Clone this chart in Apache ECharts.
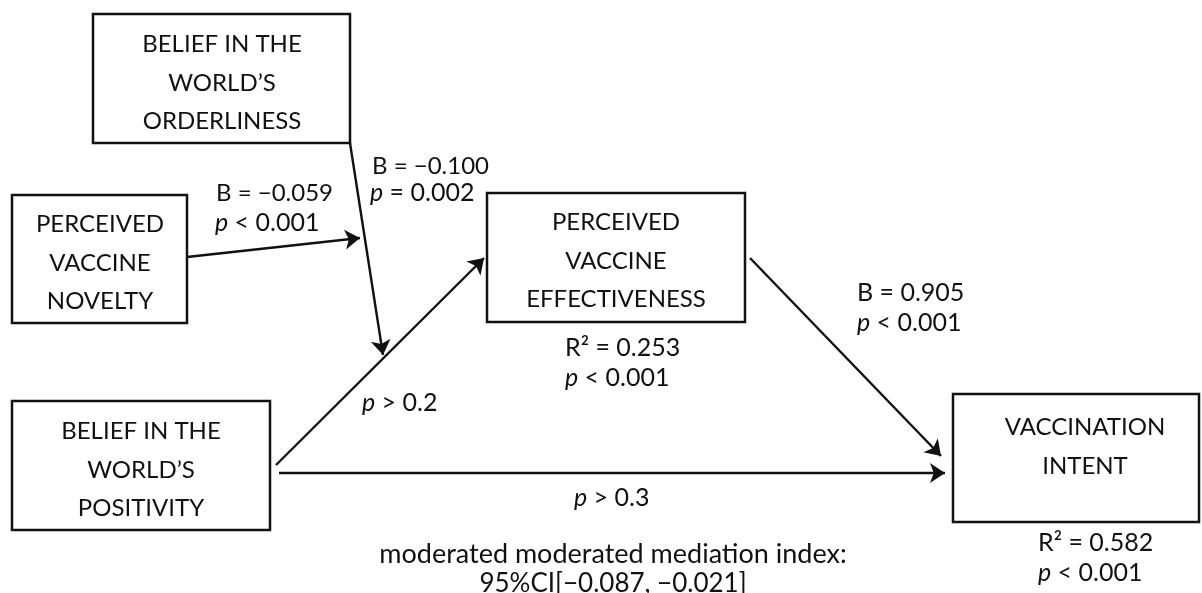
<!DOCTYPE html>
<html>
<head>
<meta charset="utf-8">
<script src="https://cdn.jsdelivr.net/npm/echarts@6/dist/echarts.min.js"></script>
<style>
  html, body { margin: 0; background: #fff; }
  #chart { width: 1202px; height: 593px; }
</style>
</head>
<body>
<div id="chart"></div>
<script>
// variables (boxes) in diagram units
const boxNames = [
  'BELIEF IN THE\nWORLD’S\nORDERLINESS',
  'PERCEIVED\nVACCINE\nNOVELTY',
  'PERCEIVED\nVACCINE\nEFFECTIVENESS',
  'BELIEF IN THE\nWORLD’S\nPOSITIVITY',
  'VACCINATION\nINTENT'
]
const boxLeft   = [93, 12, 487, 12, 953]
const boxTop    = [14, 195, 193, 401, 394]
const boxRight  = [350, 187, 745, 270, 1199]
const boxBottom = [143, 323, 322, 530, 522]
const boxTextX  = [222, 100, 616, 141, 1085]
const boxTextY  = [83, 263, 261, 470, 447]

// paths (arrows)
const pathFrom = [[187, 257], [350, 143], [276, 465], [279, 473], [750, 258]]
const pathTo   = [[360, 238], [383, 355], [484, 258], [945, 473], [941, 456]]

// coefficient labels
const labelTexts = [
  'B = −0.059', '{i|p} < 0.001',
  'B = −0.100', '{i|p} = 0.002',
  'B = 0.905', '{i|p} < 0.001',
  'R² = 0.253', '{i|p} < 0.001',
  '{i|p} > 0.2',
  '{i|p} > 0.3',
  'R² = 0.582', '{i|p} < 0.001',
  'moderated moderated mediation index:',
  '95%CI[−0.087, −0.021]'
]
const labelX = [216, 215, 372, 370, 857, 857, 565, 565, 362, 574, 1038, 1038, 613, 613]
const labelY = [193, 223, 166, 193, 293, 323, 348, 378, 403, 498, 543, 573, 554, 584]
const labelAlign = ['left', 'left', 'left', 'left', 'left', 'left', 'left', 'left',
  'left', 'left', 'left', 'left', 'center', 'center']
const labelSize = [24, 25, 24, 25, 25, 25, 25, 25, 25, 25, 25, 25, 27, 26]

const FONT = 'Lato, "Liberation Sans", sans-serif'
const INK = '#111'

const chart = echarts.init(document.getElementById('chart'))

const option = {
  animation: false,
  backgroundColor: '#fff',
  grid: { left: 0, right: 0, top: 0, bottom: 0 },
  xAxis: { type: 'value', min: 0, max: 1202, show: false },
  yAxis: { type: 'value', min: 0, max: 593, inverse: true, show: false },
  series: [
    {
      type: 'custom',
      coordinateSystem: 'cartesian2d',
      data: boxNames.map((n, i) => [boxLeft[i], boxTop[i], boxRight[i], boxBottom[i], boxTextX[i], boxTextY[i]]),
      renderItem: (params, api) => {
        const p0 = api.coord([api.value(0), api.value(1)])
        const p1 = api.coord([api.value(2), api.value(3)])
        const t = api.coord([api.value(4), api.value(5)])
        return {
          type: 'group',
          children: [
            {
              type: 'rect',
              shape: { x: p0[0], y: p0[1], width: p1[0] - p0[0], height: p1[1] - p0[1] },
              style: { fill: '#fff', stroke: INK, lineWidth: 2.5 }
            },
            {
              type: 'text',
              style: {
                x: t[0], y: t[1], text: boxNames[params.dataIndex],
                align: 'center', verticalAlign: 'middle',
                font: '24px ' + FONT, lineHeight: 38.5, fill: INK
              }
            }
          ]
        }
      }
    },
    {
      type: 'lines',
      coordinateSystem: 'cartesian2d',
      symbol: ['none', 'arrow'],
      symbolSize: 15,
      lineStyle: { color: INK, width: 2.4, opacity: 1 },
      data: pathFrom.map((f, i) => ({ coords: [f, pathTo[i]] }))
    },
    {
      type: 'custom',
      coordinateSystem: 'cartesian2d',
      data: labelTexts.map((t, i) => [labelX[i], labelY[i]]),
      renderItem: (params, api) => {
        const p = api.coord([api.value(0), api.value(1)])
        const i = params.dataIndex
        return {
          type: 'text',
          style: {
            x: p[0], y: p[1], text: labelTexts[i],
            align: labelAlign[i], verticalAlign: 'middle',
            font: labelSize[i] + 'px ' + FONT, fill: INK,
            rich: { i: { fontStyle: 'italic', fontSize: labelSize[i], fontFamily: FONT } }
          }
        }
      }
    }
  ]
}

chart.setOption(option)
window.addEventListener('resize', () => chart.resize())
</script>
</body>
</html>
